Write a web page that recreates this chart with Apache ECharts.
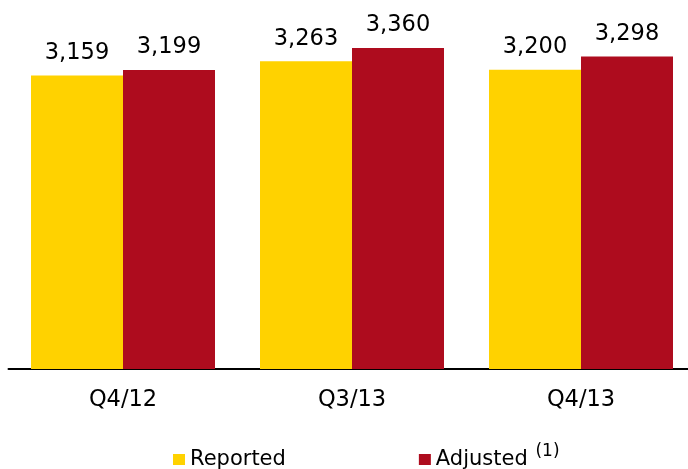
<!DOCTYPE html>
<html>
<head>
<meta charset="utf-8">
<script src="https://cdn.jsdelivr.net/npm/echarts@6/dist/echarts.min.js"></script>
<style>
html,body{margin:0;padding:0;background:#fff;}
#c{width:688px;height:469px;}
</style>
</head>
<body>
<div id="c"></div>
<script>
const categories = ['Q4/12', 'Q3/13', 'Q4/13'];
const reported = [3159, 3263, 3200];
const adjusted = [3199, 3360, 3298];
const seriesNames = ['Reported', 'Adjusted'];

const FONT = "'DejaVu Sans', Verdana, sans-serif";
const fmt = v => String(v).replace(/\B(?=(\d{3})+(?!\d))/g, ',');

const chart = echarts.init(document.getElementById('c'));
const labelCfg = {
  show: true, position: 'top', distance: 11,
  fontFamily: FONT, fontSize: 22.5, color: '#000',
  formatter: p => fmt(p.value)
};
chart.setOption({
  animation: false,
  grid: { left: 8.5, width: 687, top: 29, bottom: 100, containLabel: false, outerBoundsMode: 'none' },
  xAxis: {
    type: 'category', data: categories,
    axisLine: { lineStyle: { color: '#000', width: 2 } },
    axisTick: { show: false },
    axisLabel: { fontFamily: FONT, fontSize: 22.5, color: '#000', margin: 20 }
  },
  yAxis: { type: 'value', min: 1000, max: 3500, show: false, splitLine: { show: false } },
  legend: {
    top: 438, left: 168,
    itemWidth: 12, itemHeight: 11, itemGap: 133,
    icon: 'rect',
    textStyle: {
      fontFamily: FONT, fontSize: 21, color: '#000',
      rich: {
        a: { fontFamily: FONT, fontSize: 21, color: '#000' },
        s: { fontFamily: FONT, fontSize: 17, color: '#000', verticalAlign: 'top', padding: [0,0,16,1] }
      }
    },
    formatter: n => n === 'Adjusted' ? '{a|Adjusted }{s|(1)}' : n,
    data: seriesNames
  },
  series: [
    { name: seriesNames[0], type: 'bar', data: reported, barWidth: 92, barGap: '0%',
      itemStyle: { color: '#FFD200' }, label: labelCfg },
    { name: seriesNames[1], type: 'bar', data: adjusted, barWidth: 92,
      itemStyle: { color: '#AE0C1E' }, label: labelCfg }
  ]
});
</script>
</body>
</html>
